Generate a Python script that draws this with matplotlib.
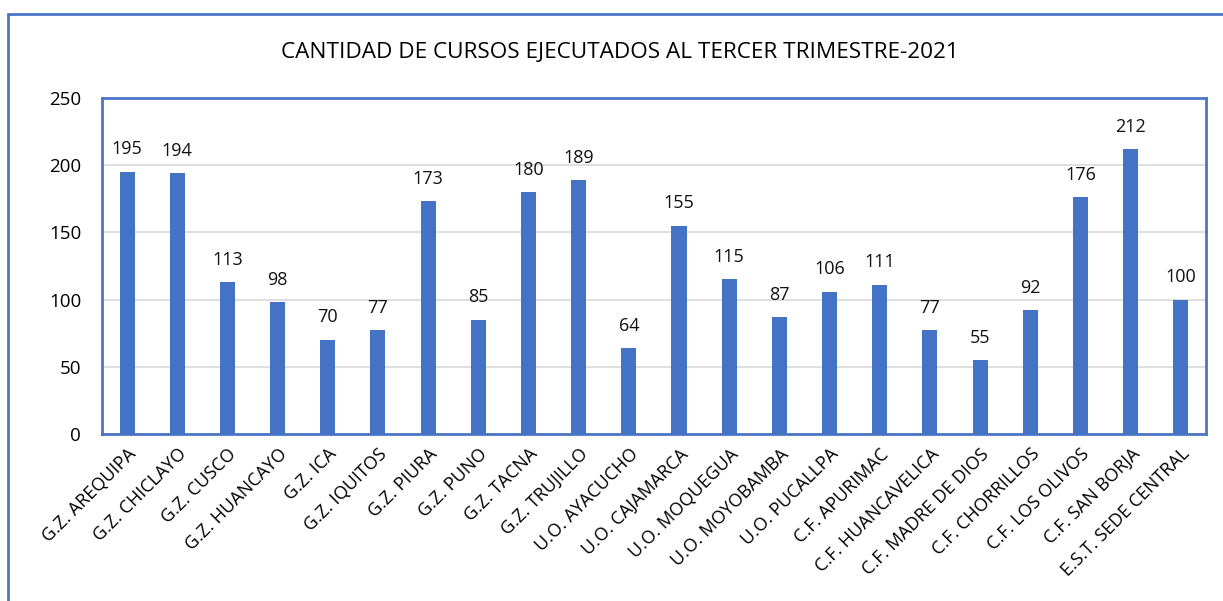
import matplotlib.pyplot as plt
from matplotlib.patches import Rectangle

# Data
categories = [
    "G.Z. AREQUIPA", "G.Z. CHICLAYO", "G.Z. CUSCO", "G.Z. HUANCAYO", "G.Z. ICA",
    "G.Z. IQUITOS", "G.Z. PIURA", "G.Z. PUNO", "G.Z. TACNA", "G.Z. TRUJILLO",
    "U.O. AYACUCHO", "U.O. CAJAMARCA", "U.O. MOQUEGUA", "U.O. MOYOBAMBA",
    "U.O. PUCALLPA", "C.F. APURIMAC", "C.F. HUANCAVELICA", "C.F. MADRE DE DIOS",
    "C.F. CHORRILLOS", "C.F. LOS OLIVOS", "C.F. SAN BORJA", "E.S.T. SEDE CENTRAL",
]
cursos = [195, 194, 113, 98, 70, 77, 173, 85, 180, 189, 64, 155, 115, 87,
          106, 111, 77, 55, 92, 176, 212, 100]
y_ticks = [0, 50, 100, 150, 200, 250]

BAR_COLOR = "#4472C4"
FRAME_COLOR = "#4A76C6"

plt.rcParams['font.family'] = ['Open Sans', 'DejaVu Sans']

fig = plt.figure(figsize=(12.23, 6.01), dpi=100)
ax = fig.add_axes([0.0834, 0.2779, 0.9026, 0.5591])

x = list(range(len(categories)))
bars = ax.bar(x, cursos, width=0.3, color=BAR_COLOR, zorder=3)

for xi, v in zip(x, cursos):
    ax.text(xi, v + 10, str(v), ha='center', va='bottom', fontsize=13, color='#111111')

ax.set_xlim(-0.5, len(categories) - 0.5)
ax.set_ylim(0, 250)
ax.set_yticks(y_ticks)
ax.set_yticklabels([str(t) for t in y_ticks], fontsize=13.5)
ax.yaxis.grid(True, color='#D9D9D9', linewidth=1.2, zorder=0)
ax.tick_params(axis='both', length=0)
ax.tick_params(axis='y', pad=15)
ax.set_xticks(x)
ax.set_xticklabels(categories, rotation=45, ha='right', rotation_mode='anchor',
                   fontsize=13)
ax.tick_params(axis='x', pad=8)

for s in ax.spines.values():
    s.set_color(FRAME_COLOR)
    s.set_linewidth(2)

fig.text(0.507, 0.912, "CANTIDAD DE CURSOS EJECUTADOS AL TERCER TRIMESTRE-2021",
         ha='center', va='center', fontsize=16.2)

# outer chart frame
fig.patches.append(Rectangle((8 / 1223, -0.1), 1.2, (601 - 14) / 601 + 0.1,
                             transform=fig.transFigure, fill=False,
                             edgecolor=FRAME_COLOR, linewidth=2))

fig.savefig("out.png", dpi=100)
